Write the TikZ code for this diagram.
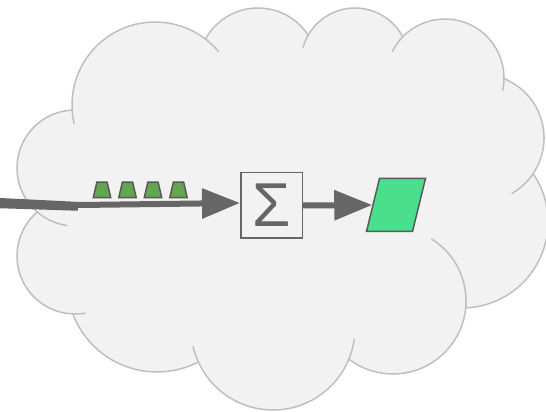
\documentclass[tikz,border=0pt]{standalone}
\usepackage{fontspec}
\newfontfamily\sigmafont{Liberation Sans}
\usetikzlibrary{arrows.meta,shapes.geometric}

\definecolor{cloudfill}{HTML}{F2F2F2}
\definecolor{cloudline}{HTML}{BFBFBF}
\definecolor{arrowgray}{HTML}{666666}
\definecolor{tokengreen}{HTML}{62A64F}
\definecolor{tokenline}{HTML}{595959}
\definecolor{outgreen}{HTML}{4ADF8C}

\tikzset{
  cloudedge/.style={draw=cloudline, line width=1.5pt, line cap=round},
  flow/.style={draw=arrowgray, line width=6pt, -{Triangle[length=38pt,width=29pt]}},
  stubline/.style={draw=arrowgray, line width=5.5pt},
  token/.style={trapezium, trapezium left angle=70.7, trapezium right angle=70.7,
    trapezium stretches=true, minimum width=17.5pt, minimum height=15.5pt,
    inner sep=0.5pt, draw=tokenline, fill=tokengreen, line width=1.5pt},
  sumbox/.style={rectangle, draw=arrowgray, fill=cloudfill, line width=1.5pt,
    minimum width=61.5pt, minimum height=65.5pt, inner sep=0pt,
    text=arrowgray, font=\sigmafont\fontsize{62}{62}\selectfont},
  outbox/.style={rectangle, transform shape, minimum width=46pt, minimum height=53pt,
    inner sep=0pt, draw=tokenline, fill=outgreen, line width=1.5pt}
}

\begin{document}
\begin{tikzpicture}[x=1pt,y=1pt]
\useasboundingbox (0,0) rectangle (546,412);

% cloud body: lobes plus the core polygon through their centres
\fill[cloudfill] (75,244) -- (155,307) -- (258,344) -- (355,350) -- (445,334)
  -- (480,274) -- (462,190) -- (393,111) -- (273,84) -- (157,130) -- (75,156) -- cycle;
\foreach \cx/\cy/\r in {75/244/58, 155/307/83, 258/344/60, 355/350/54, 445/334/59,
    480/274/64, 462/190/86, 393/111/73, 273/84/82, 157/130/90, 75/156/58}
  \fill[cloudfill] (\cx,\cy) circle[radius=\r];

% cloud outline, one arc per lobe
\foreach \cx/\cy/\r/\a/\b in {75/244/58/262/93, 155/307/83/193/40, 258/344/60/151/33,
    355/350/54/164/28, 445/334/59/153/-12, 480/274/64/68/-60, 462/190/86/34/-87.5,
    393/111/73/58/-127, 273/84/82/-8/-167, 157/130/90/-62.6/-159.3, 75/156/58/280/130.7}
  \draw[cloudedge] (\cx,\cy) ++(\a:\r) arc[start angle=\a, end angle=\b, radius=\r];

% summation block and slanted output
\node[sumbox] (sum) at (271.5,206.5) {Σ};
\begin{scope}[shift={(396,207)}, xslant=0.245]
  \node[outbox] (out) at (0,0) {};
\end{scope}

% queued tokens
\node[token] (t1) at (102,222) {};
\node[token] (t2) at (127.5,222) {};
\node[token] (t3) at (153,222) {};
\node[token] (t4) at (178.5,222) {};

% incoming stream
\coordinate (in) at (0,211);
\coordinate (bend) at (80,207);
\coordinate (stubA) at (0,206.5);
\coordinate (stubB) at (78,204);
\draw[stubline] (stubA) -- (stubB);
\draw[flow] (in) .. controls (40,208.5) .. (bend) -- ([yshift=2.5pt]sum.west);

% result
\draw[flow] (sum.east) -- (out.west);
\end{tikzpicture}
\end{document}
